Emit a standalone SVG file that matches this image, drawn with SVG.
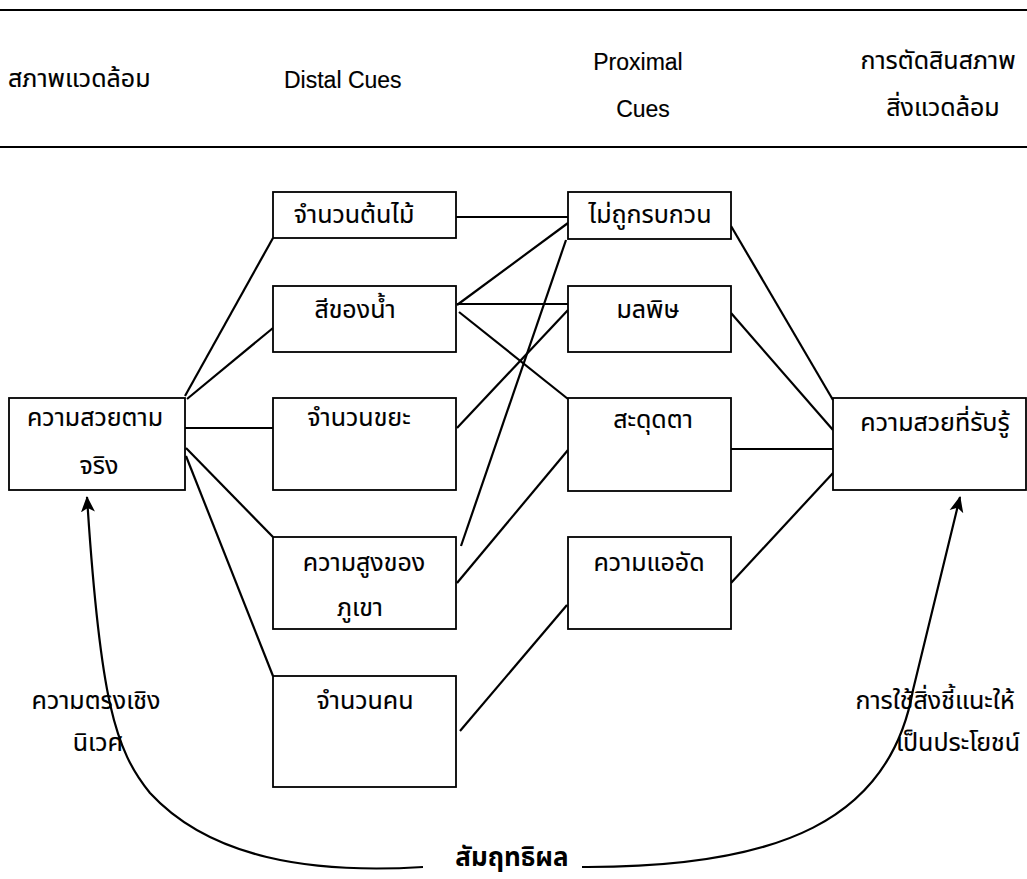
<svg xmlns="http://www.w3.org/2000/svg" width="1027" height="879" viewBox="0 0 1027 879">
<style>
.bg{fill:#fff}
.box{fill:#fff;stroke:#000;stroke-width:1.8}
.t{font-family:"Noto Sans Thai","Noto Sans","Liberation Sans",sans-serif;font-size:25px;fill:#000;stroke:#000;stroke-width:0.15;text-anchor:middle}
.h{font-family:"Noto Sans Thai","Noto Sans","Liberation Sans",sans-serif;font-size:25px;fill:#000;stroke:#000;stroke-width:0.15}
.l{font-family:"Liberation Sans",Arial,sans-serif;font-size:23px;fill:#000;stroke:#000;stroke-width:0.15}
.big{font-size:26px;font-weight:bold;stroke-width:0}
.c{fill:none;stroke:#000;stroke-width:2.2}
.rule{stroke:#000;stroke-width:2}
</style>
<defs>
<marker id="arr" viewBox="0 0 16 16" refX="15" refY="8" markerWidth="16" markerHeight="16" markerUnits="userSpaceOnUse" orient="auto">
<path d="M0,1 L16,8 L0,15 L4,8 z" fill="#000"/>
</marker>
</defs>
<rect class="bg" x="0" y="0" width="1027" height="879"/>
<g id="header">
<line class="rule" x1="0" y1="10" x2="1027" y2="10"/>
<line class="rule" x1="0" y1="147" x2="1027" y2="147"/>
<text class="h" x="8" y="87">สภาพแวดล้อม</text>
<text class="l" x="284" y="88">Distal Cues</text>
<text class="l" x="638" y="70" text-anchor="middle">Proximal</text>
<text class="l" x="643" y="117" text-anchor="middle">Cues</text>
<text class="h" x="938" y="69" text-anchor="middle">การตัดสินสภาพ</text>
<text class="h" x="943" y="116" text-anchor="middle">สิ่งแวดล้อม</text>
</g>
<g id="connectors">
<line class="c" x1="185" y1="396" x2="273" y2="238"/>
<line class="c" x1="187" y1="399" x2="273" y2="328"/>
<line class="c" x1="185" y1="428" x2="273" y2="428"/>
<line class="c" x1="186" y1="448" x2="273" y2="537"/>
<line class="c" x1="186" y1="456" x2="273" y2="676"/>
<line class="c" x1="456" y1="217" x2="568" y2="217"/>
<line class="c" x1="457" y1="305" x2="568" y2="223"/>
<line class="c" x1="457" y1="304" x2="568" y2="304"/>
<line class="c" x1="459" y1="312" x2="568" y2="399"/>
<line class="c" x1="457" y1="428" x2="568" y2="310"/>
<line class="c" x1="461" y1="546" x2="566" y2="240"/>
<line class="c" x1="457" y1="583" x2="568" y2="450"/>
<line class="c" x1="460" y1="731" x2="567" y2="605"/>
<line class="c" x1="731" y1="226" x2="833" y2="400"/>
<line class="c" x1="731" y1="313" x2="833" y2="430"/>
<line class="c" x1="731" y1="449" x2="833" y2="449"/>
<line class="c" x1="731" y1="583" x2="833" y2="473"/>
<path class="c" d="M423 867 C310 874 210 858 150 793 C115 750 100 700 87 497" marker-end="url(#arr)"/>
<path class="c" d="M582 867 C780 868 890 820 913 690 L960 497" marker-end="url(#arr)"/>
</g>
<g id="n-real">
<rect class="box" x="9" y="398" width="176" height="92"/>
<text class="t" x="95" y="426">ความสวยตาม</text>
<text class="t" x="99" y="474">จริง</text>
</g>
<g id="n-trees">
<rect class="box" x="273" y="192" width="183" height="46"/>
<text class="t" x="354" y="223">จำนวนต้นไม้</text>
</g>
<g id="n-water">
<rect class="box" x="273" y="286" width="183" height="66"/>
<text class="t" x="355" y="318">สีของน้ำ</text>
</g>
<g id="n-trash">
<rect class="box" x="273" y="398" width="183" height="92"/>
<text class="t" x="359" y="426">จำนวนขยะ</text>
</g>
<g id="n-mountain">
<rect class="box" x="273" y="537" width="183" height="92"/>
<text class="t" x="364" y="571">ความสูงของ</text>
<text class="t" x="360" y="616">ภูเขา</text>
</g>
<g id="n-people">
<rect class="box" x="273" y="676" width="183" height="111"/>
<text class="t" x="365" y="709">จำนวนคน</text>
</g>
<g id="n-undisturbed">
<rect class="box" x="568" y="192" width="163" height="47"/>
<text class="t" x="650" y="223">ไม่ถูกรบกวน</text>
</g>
<g id="n-pollution">
<rect class="box" x="568" y="286" width="163" height="66"/>
<text class="t" x="648" y="318">มลพิษ</text>
</g>
<g id="n-striking">
<rect class="box" x="568" y="398" width="163" height="93"/>
<text class="t" x="653" y="428">สะดุดตา</text>
</g>
<g id="n-crowd">
<rect class="box" x="568" y="537" width="163" height="92"/>
<text class="t" x="649" y="571">ความแออัด</text>
</g>
<g id="n-perceived">
<rect class="box" x="833" y="398" width="193" height="92"/>
<text class="t" x="935" y="431">ความสวยที่รับรู้</text>
</g>
<g id="labels">
<text class="t" x="96" y="709">ความตรงเชิง</text>
<text class="t" x="98" y="751">นิเวศ</text>
<text class="t" x="935" y="709">การใช้สิ่งชี้แนะให้</text>
<text class="t" x="958" y="751">เป็นประโยชน์</text>
<text class="t big" x="512" y="866">สัมฤทธิผล</text>
</g>
</svg>
